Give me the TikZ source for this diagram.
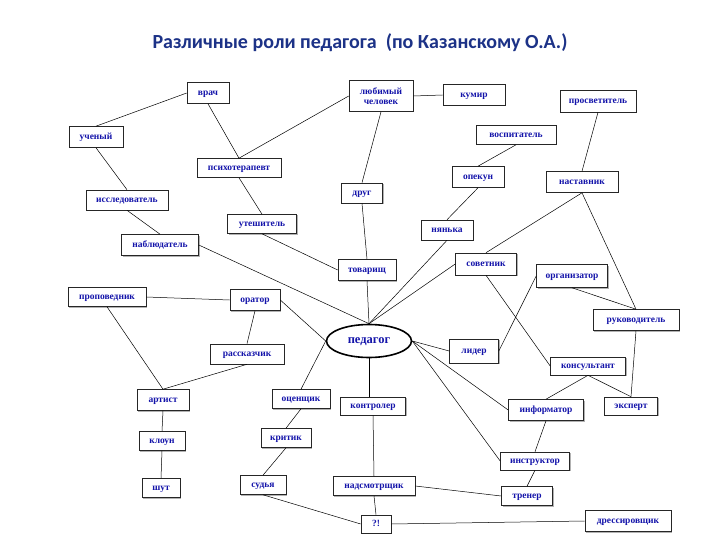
\documentclass[tikz,border=0pt]{standalone}
\usepackage{fontspec}
\setmainfont{Liberation Serif}
\newfontfamily\titlefont{Carlito}
\usetikzlibrary{shapes.geometric,shadows}
\definecolor{rolecolor}{RGB}{20,20,170}
\definecolor{titlecolor}{RGB}{28,50,135}

\begin{document}
\begin{tikzpicture}[x=1pt, y=-1pt,
  rolebox/.style={rectangle, draw=black!85, line width=0.6pt, fill=white, inner sep=1pt, minimum height=20pt, align=center, text height=1.1ex, text depth=0pt, font=\fontsize{9.5}{10.5}\selectfont\bfseries, text=rolecolor, drop shadow={shadow xshift=1pt, shadow yshift=-1pt, fill=black!30, opacity=1}},
  centrebox/.style={ellipse, draw, line width=1.6pt, fill=white, minimum width=85pt, minimum height=33pt, inner sep=0pt, text height=1.1ex, text depth=0pt, font=\fontsize{12.5}{14}\selectfont\bfseries, text=rolecolor},
  link/.style={draw, line width=0.5pt}
]
  \useasboundingbox[fill=white] (0,0) rectangle (720,540);

  \node[font=\titlefont\fontsize{20}{22}\selectfont\bfseries, text=titlecolor] (title) at (360,43) {Различные роли педагога\ \ (по Казанскому О.А.)};

  % left group
  \node[rolebox, minimum width=42pt, minimum height=21pt] (vrach) at (208,93) {врач};
  \node[rolebox, minimum width=54pt, minimum height=21pt] (uchenyi) at (96,137) {ученый};
  \node[rolebox, minimum width=84pt, minimum height=19pt] (psycho) at (239,168) {психотерапевт};
  \node[rolebox, minimum width=82pt] (issled) at (127,200) {исследователь};
  \node[rolebox, minimum width=77pt, minimum height=21pt] (nabl) at (160,245) {наблюдатель};
  \node[rolebox, minimum width=69pt, minimum height=19pt] (uteshitel) at (262,224) {утешитель};

  % top middle
  \node[rolebox, text height=, text depth=, minimum width=64pt, minimum height=31pt] (lyubimy) at (381,96) {любимый\\человек};
  \node[rolebox, minimum width=62pt, minimum height=21pt] (kumir) at (474,95) {кумир};
  \node[rolebox, minimum width=41pt] (drug) at (362,193) {друг};
  \node[rolebox, minimum width=58pt, minimum height=21pt] (tovarisch) at (367,270) {товарищ};

  % right group
  \node[rolebox, minimum width=80pt, minimum height=19pt] (vospit) at (516,135) {воспитатель};
  \node[rolebox, minimum width=52pt, minimum height=21pt] (opekun) at (478,177) {опекун};
  \node[rolebox, minimum width=76pt, minimum height=22pt] (prosvet) at (598,101) {просветитель};
  \node[rolebox, minimum width=72pt, minimum height=21pt] (nastavnik) at (582,182) {наставник};
  \node[rolebox, minimum width=52pt] (nyanka) at (447,230) {нянька};
  \node[rolebox, minimum width=61pt, minimum height=22pt] (sovetnik) at (486,264) {советник};
  \node[rolebox, minimum width=71pt, minimum height=23pt] (organizator) at (572,276) {организатор};
  \node[rolebox, minimum width=86pt, minimum height=21pt] (rukovod) at (636,320) {руководитель};

  % centre
  \node[centrebox] (pedagog) at (369,341) {педагог};

  \node[rolebox, minimum width=78pt, minimum height=19pt] (propoved) at (107,297) {проповедник};
  \node[rolebox, minimum width=50pt, minimum height=21pt] (orator) at (255,300) {оратор};
  \node[rolebox, minimum width=74pt] (rasskaz) at (247,354) {рассказчик};
  \node[rolebox, minimum width=49pt, minimum height=24pt] (lider) at (474,351) {лидер};
  \node[rolebox, minimum width=75pt, minimum height=18pt] (konsult) at (588,366) {консультант};
  \node[rolebox, minimum width=75pt, minimum height=21pt] (informator) at (546,410) {информатор};
  \node[rolebox, minimum width=53pt, minimum height=18pt] (ekspert) at (631,406) {эксперт};
  \node[rolebox, minimum width=69pt, minimum height=18pt] (instruktor) at (535,461) {инструктор};
  \node[rolebox, minimum width=51pt, minimum height=19pt] (trener) at (527,496) {тренер};
  \node[rolebox, minimum width=86pt, minimum height=21pt] (dressir) at (628,521) {дрессировщик};

  % bottom
  \node[rolebox, minimum width=52pt, minimum height=21pt] (artist) at (163,400) {артист};
  \node[rolebox, minimum width=46pt, minimum height=19pt] (kloun) at (162,441) {клоун};
  \node[rolebox, minimum width=38pt, minimum height=19pt] (shut) at (161,488) {шут};
  \node[rolebox, minimum width=58pt, minimum height=19pt] (ocenschik) at (301,399) {оценщик};
  \node[rolebox, minimum width=50pt, minimum height=19pt] (kritik) at (286,438) {критик};
  \node[rolebox, minimum width=46pt, minimum height=19pt] (sudya) at (263,485) {судья};
  \node[rolebox, minimum width=65pt, minimum height=18pt] (kontroler) at (373,406) {контролер};
  \node[rolebox, minimum width=82pt, minimum height=19pt] (nadsmotr) at (374,486) {надсмотрщик};
  \node[rolebox, minimum width=30pt, minimum height=18pt] (vopros) at (376,524) {?!};

  % connectors
  \path[link] (vrach.west) -- (uchenyi.north);
  \path[link] (vrach.south) -- (psycho.north);
  \path[link] (uchenyi.south) -- (issled.north);
  \path[link] (issled.south) -- (nabl.north);
  \path[link] (nabl.east) -- (pedagog.north);
  \path[link] (psycho.north) -- (lyubimy.west);
  \path[link] (psycho.south) -- (uteshitel.north);
  \path[link] (uteshitel.south) -- (tovarisch.west);
  \path[link] (lyubimy.east) -- (kumir.west);
  \path[link] (lyubimy.south) -- (drug.north);
  \path[link] (drug.south) -- (tovarisch.north);
  \path[link] (tovarisch.south) -- (pedagog.north);
  \path[link] (vospit.south) -- (opekun.north);
  \path[link] (opekun.south) -- (nyanka.north);
  \path[link] (nyanka.south) -- (pedagog.north);
  \path[link] (sovetnik.west) -- (pedagog.north);
  \path[link] (nastavnik.south) -- (sovetnik.north);
  \path[link] (prosvet.south) -- (nastavnik.north);
  \path[link] (nastavnik.south) -- (rukovod.north);
  \path[link] (organizator.south) -- (rukovod.north);
  \path[link] (organizator.west) -- (lider.east);
  \path[link] (sovetnik.south) -- (konsult.west);
  \path[link] (rukovod.south) -- (ekspert.north);
  \path[link] (konsult.south) -- (ekspert.north);
  \path[link] (konsult.south) -- (informator.north);
  \path[link] (pedagog.east) -- (lider.west);
  \path[link] (pedagog.east) -- (informator.west);
  \path[link] (pedagog.east) -- (instruktor.west);
  \path[link] (pedagog.west) -- (orator.east);
  \path[link] (pedagog.west) -- (ocenschik.north);
  \path[link] (pedagog.south) -- (pedagog.south |- kontroler.north);
  \path[link] (propoved.east) -- (orator.west);
  \path[link] (orator.south) -- (rasskaz.north);
  \path[link] (propoved.south) -- (artist.north);
  \path[link] (rasskaz.south) -- (artist.north);
  \path[link] (artist.south) -- (kloun.north);
  \path[link] (kloun.south) -- (shut.north);
  \path[link] (ocenschik.south) -- (kritik.north);
  \path[link] (kritik.south) -- (sudya.north);
  \path[link] (sudya.south) -- (vopros.west);
  \path[link] (kontroler.south) -- (nadsmotr.north);
  \path[link] (nadsmotr.south) -- (vopros.north);
  \path[link] (nadsmotr.east) -- (trener.west);
  \path[link] (vopros.east) -- (dressir.west);
  \path[link] (informator.south) -- (instruktor.north);
  \path[link] (instruktor.south) -- (trener.north);
\end{tikzpicture}
\end{document}
